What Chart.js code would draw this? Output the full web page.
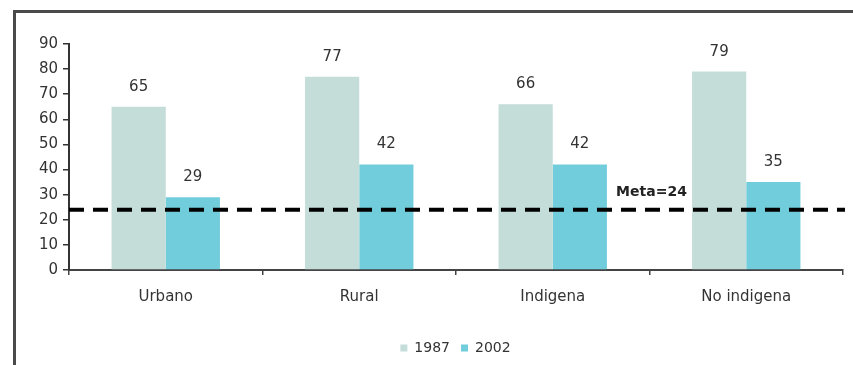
<!DOCTYPE html>
<html>
<head>
<meta charset="utf-8">
<script src="https://cdn.jsdelivr.net/npm/chart.js@4.4.1/dist/chart.umd.min.js"></script>
<style>
  html, body { margin: 0; padding: 0; background: #ffffff; }
  #wrap { position: relative; width: 853px; height: 365px; }
</style>
</head>
<body>
<div id="wrap"><canvas id="c" width="853" height="365"></canvas></div>
<script>
// Population share by area and ethnicity, 1987 vs 2002, with the 24% target
const categories = ['Urbano', 'Rural', 'Indigena', 'No indigena'];
const values1987 = [65, 77, 66, 79];
const values2002 = [29, 42, 42, 35];
const seriesLabels = ['1987', '2002'];
const yTicks = [0, 10, 20, 30, 40, 50, 60, 70, 80, 90];
const metaValue = 24;
const metaLabel = 'Meta=24';

const FONT = '"DejaVu Sans", "Liberation Sans", Arial, sans-serif';
const TEXT = '#333333';

// Outer frame around the figure (only the left and top edges are visible)
const framePlugin = {
  id: 'frame',
  beforeDraw(chart) {
    const ctx = chart.ctx;
    ctx.save();
    ctx.strokeStyle = '#4a4a4a';
    ctx.lineWidth = 3;
    ctx.beginPath();
    ctx.moveTo(14.5, chart.height + 2);
    ctx.lineTo(14.5, 11.5);
    ctx.lineTo(chart.width + 2, 11.5);
    ctx.stroke();
    ctx.restore();
  }
};

// Nudge the legend to the right so it sits under the plot's middle
const legendShift = {
  id: 'legendShift',
  afterLayout(chart) {
    if (chart.legend) {
      chart.legend.left += 34;
      chart.legend.right += 34;
    }
  }
};

// Value labels above every bar
const valueLabels = {
  id: 'valueLabels',
  afterDatasetsDraw(chart) {
    const ctx = chart.ctx;
    ctx.save();
    ctx.font = '15px ' + FONT;
    ctx.fillStyle = TEXT;
    ctx.textAlign = 'center';
    ctx.textBaseline = 'middle';
    chart.data.datasets.forEach((ds, i) => {
      chart.getDatasetMeta(i).data.forEach((bar, j) => {
        ctx.fillText(String(ds.data[j]), bar.x, bar.y - 20);
      });
    });
    ctx.restore();
  }
};

// Dashed target line with its caption
const targetLine = {
  id: 'targetLine',
  afterDatasetsDraw(chart) {
    const ctx = chart.ctx;
    const area = chart.chartArea;
    const y = chart.scales.y.getPixelForValue(metaValue);
    ctx.save();
    ctx.strokeStyle = '#000000';
    ctx.lineWidth = 4;
    ctx.setLineDash([15, 9]);
    ctx.beginPath();
    ctx.moveTo(area.left, y);
    ctx.lineTo(area.right + 2, y);
    ctx.stroke();
    ctx.setLineDash([]);
    ctx.font = 'bold 14px ' + FONT;
    ctx.fillStyle = '#222222';
    ctx.textAlign = 'center';
    ctx.textBaseline = 'middle';
    const x = area.left + (area.right - area.left) * 0.75;
    ctx.fillText(metaLabel, x + 2, y - 17);
    ctx.restore();
  }
};

new Chart(document.getElementById('c'), {
  type: 'bar',
  data: {
    labels: categories,
    datasets: [
      { label: seriesLabels[0], data: values1987, backgroundColor: '#c4ddd9', borderWidth: 0 },
      { label: seriesLabels[1], data: values2002, backgroundColor: '#71cddb', borderWidth: 0 }
    ]
  },
  options: {
    responsive: false,
    animation: false,
    devicePixelRatio: 1,
    layout: { padding: { top: 44, right: 10, left: 0, bottom: 0 } },
    datasets: { bar: { categoryPercentage: 0.56, barPercentage: 1.0 } },
    plugins: {
      legend: {
        position: 'bottom',
        labels: {
          font: { family: FONT, size: 14 },
          color: TEXT,
          boxWidth: 7,
          boxHeight: 7,
          padding: 11
        }
      },
      tooltip: { enabled: false }
    },
    scales: {
      x: {
        grid: {
          display: true,
          drawOnChartArea: false,
          offset: true,
          tickLength: 5,
          color: '#444444',
          lineWidth: 1.5
        },
        border: { display: true, color: '#444444', width: 2 },
        ticks: { font: { family: FONT, size: 15 }, color: TEXT, padding: 13 },
        afterFit(scale) { scale.height = 60; }
      },
      y: {
        min: 0,
        max: 90,
        afterBuildTicks(scale) { scale.ticks = yTicks.map(v => ({ value: v })); },
        grid: {
          display: true,
          drawOnChartArea: false,
          tickLength: 6,
          color: '#333333',
          lineWidth: 1.5
        },
        border: { display: true, color: '#333333', width: 2 },
        ticks: { font: { family: FONT, size: 15 }, color: TEXT, padding: 5 },
        afterFit(scale) { scale.width = 69; }
      }
    }
  },
  plugins: [framePlugin, legendShift, valueLabels, targetLine]
});
</script>
</body>
</html>
